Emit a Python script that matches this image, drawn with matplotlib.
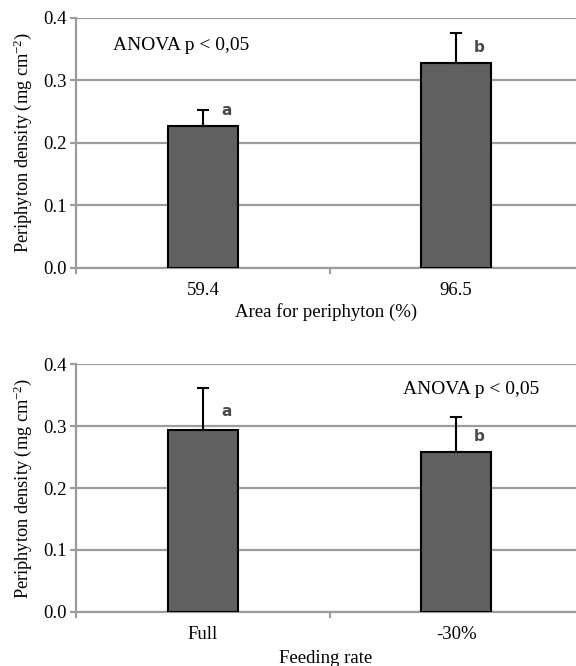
import matplotlib.pyplot as plt
import numpy as np

plt.rcParams['font.family'] = ['Liberation Serif', 'DejaVu Serif']
plt.rcParams['mathtext.fontset'] = 'custom'
plt.rcParams['mathtext.rm'] = 'Liberation Serif'
plt.rcParams['mathtext.it'] = 'Liberation Serif:italic'

# top panel: area for periphyton
area_labels = ['59.4', '96.5']
area_means = [0.226, 0.328]
area_err = [0.026, 0.047]
area_letters = ['a', 'b']
area_letter_y = [0.251, 0.352]

# bottom panel: feeding rate
feed_labels = ['Full', '-30%']
feed_means = [0.293, 0.259]
feed_err = [0.069, 0.056]
feed_letters = ['a', 'b']
feed_letter_y = [0.324, 0.283]

yticks = [0.0, 0.1, 0.2, 0.3, 0.4]

fig = plt.figure(figsize=(5.76, 6.66), dpi=100)
ax1 = fig.add_axes([0.1319, 0.5976, 0.8681, 0.3761])
ax2 = fig.add_axes([0.1319, 0.0815, 0.8681, 0.3715])

grid_c = '#9c9c9c'
fs = 13.5


def panel(ax, labels, means, err, letters, letter_y, xlabel, anova_xy, xlabelpad):
    x = np.arange(len(labels))
    ax.bar(x, means, width=0.276, color='#606060', edgecolor='black', linewidth=1.5, zorder=3)
    ax.errorbar(x, means, yerr=[np.zeros(len(err)), err], fmt='none', ecolor='black',
                elinewidth=1.5, capsize=4, capthick=1.5, zorder=4)
    for xi, ly, lt in zip(x, letter_y, letters):
        ax.text(xi + 0.092, ly, lt, fontsize=11, fontweight='bold',
                family='DejaVu Sans', color='#4a4a4a', ha='center', va='center', zorder=5)
    ax.set_xlim(-0.502, 1.473)
    ax.set_ylim(0, 0.4)
    ax.set_yticks(yticks)
    ax.set_yticklabels(['%.1f' % t for t in yticks], fontsize=fs)
    ax.set_xticks(x)
    ax.set_xticklabels(labels, fontsize=fs)
    ax.tick_params(axis='x', length=0, pad=10)
    ax.set_xticks([-0.5, 0.5], minor=True)
    ax.tick_params(axis='x', which='minor', length=4, width=1.5, color=grid_c, direction='out')
    ax.tick_params(axis='y', length=4, width=1.5, color=grid_c, direction='out', pad=3)
    ax.yaxis.grid(True, color=grid_c, linewidth=1.6, zorder=0)
    ax.set_axisbelow(True)
    for s in ['top', 'right']:
        ax.spines[s].set_visible(False)
    for s in ['left', 'bottom']:
        ax.spines[s].set_color(grid_c)
        ax.spines[s].set_linewidth(1.6)
    ax.set_ylabel(r'Periphyton density (mg cm$^{\mathrm{-2}}$)', fontsize=13.2, labelpad=6)
    ax.set_xlabel(xlabel, fontsize=fs, labelpad=xlabelpad)
    ax.text(anova_xy[0], anova_xy[1], 'ANOVA p < 0,05', fontsize=14, ha='left', va='center')


panel(ax1, area_labels, area_means, area_err, area_letters, area_letter_y,
      'Area for periphyton (%)', (-0.356, 0.356), 3)
panel(ax2, feed_labels, feed_means, feed_err, feed_letters, feed_letter_y,
      'Feeding rate', (0.791, 0.359), 5)

fig.savefig('out.png', dpi=100)
